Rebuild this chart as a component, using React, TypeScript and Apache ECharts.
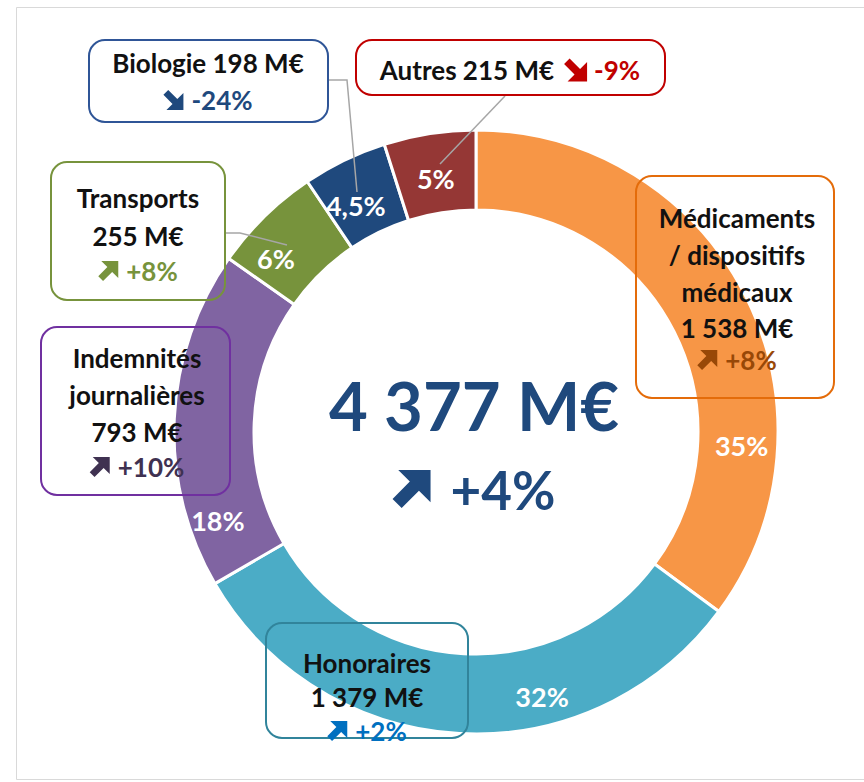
import React, { useEffect, useRef } from "react";
import * as echarts from "echarts";

// ---- Data ----
const categories = [
  "Médicaments / dispositifs médicaux",
  "Honoraires",
  "Indemnités journalières",
  "Transports",
  "Biologie",
  "Autres",
];
const amounts = [1538, 1379, 793, 255, 198, 215];
const shareLabels = ["35%", "32%", "18%", "6%", "4,5%", "5%"];
const changes = ["+8%", "+2%", "+10%", "+8%", "-24%", "-9%"];
const totalLabel = "4 377 M€";
const totalChange = "+4%";

// ---- Styles / layout ----
const FONT = "Lato, 'Open Sans', sans-serif";
const sliceColors = ["#F79646", "#4BACC6", "#8064A2", "#77933C", "#1F497D", "#953735"];
const boxColors = ["#E46C0A", "#31849B", "#7030A0", "#77933C", "#2F5597", "#C00000"];
const changeColors = ["#984807", "#0070C0", "#3F3151", "#77933C", "#1F497D", "#C00000"];
const nameLines = [
  ["Médicaments", "/ dispositifs", "médicaux"],
  ["Honoraires"],
  ["Indemnités", "journalières"],
  ["Transports"],
  ["Biologie"],
  ["Autres"],
];
const CX = 476;
const CY = 432;
// label polar positions [angle from 12 o'clock clockwise (deg), radius]
const labelPolar = [
  [93, 266],
  [166, 273],
  [251, 273],
  [311, 265],
  [332, 256],
  [351, 257],
];
const boxes = [
  { x: 636, y: 176, w: 198, h: 222, cx: 737, lines: [218, 255, 292, 328], chg: 360 },
  { x: 266, y: 623, w: 202, h: 115, cx: 367, lines: [663, 697], chg: 731 },
  { x: 41, y: 327, w: 189, h: 168, cx: 137, lines: [358, 395, 432], chg: 467 },
  { x: 51, y: 162, w: 174, h: 138, cx: 138, lines: [198, 236], chg: 271 },
  { x: 89, y: 40, w: 239, h: 82, cx: 208, lines: [63], chg: 100 },
  { x: 356, y: 40, w: 309, h: 55, cx: 510, lines: [70], chg: 70 },
];
const leaders = [
  null,
  null,
  null,
  [[225, 233], [240, 233], [287, 245]],
  [[328, 80], [347, 80], [357, 192]],
  [[505, 96], [440, 164]],
];

// ---- Arrow shapes ----
const UP_D = "M15 0 L100 0 L100 85 L69.5 54.5 L24 100 L0 76 L45.5 30.5 Z";
const DOWN_D = "M15 100 L100 100 L100 15 L69.5 45.5 L24 0 L0 24 L45.5 69.5 Z";
echarts.graphic.registerShape("arrowUp", echarts.graphic.extendPath(UP_D, {}));
echarts.graphic.registerShape("arrowDown", echarts.graphic.extendPath(DOWN_D, {}));

let measureCtx: CanvasRenderingContext2D | null = null;
function measure(text: string, font: string): number {
  if (!measureCtx) measureCtx = document.createElement("canvas").getContext("2d");
  measureCtx!.font = font;
  return measureCtx!.measureText(text).width;
}

function fmtAmount(v: number): string {
  return v.toString().replace(/\B(?=(\d{3})+(?!\d))/g, " ") + " M€";
}

function arrowWithText(
  chg: string,
  startX: number,
  cy: number,
  size: number,
  gap: number,
  fontSize: number,
  color: string
): any[] {
  const up = !chg.startsWith("-");
  return [
    {
      type: up ? "arrowUp" : "arrowDown",
      x: startX,
      y: cy - size / 2,
      scaleX: size / 100,
      scaleY: size / 100,
      style: { fill: color },
    },
    {
      type: "text",
      style: {
        text: chg,
        x: startX + size + gap,
        y: cy,
        align: "left",
        verticalAlign: "middle",
        font: `bold ${fontSize}px ${FONT}`,
        fill: color,
      },
    },
  ];
}

function buildGraphics(): any[] {
  const els: any[] = [];
  // frame
  els.push({
    type: "rect",
    shape: { x: 16.5, y: 7.5, width: 900, height: 772 },
    style: { fill: "none", stroke: "#D9D9D9", lineWidth: 1 },
    z: 0,
  });
  const fs = 26;
  const font = `bold ${fs}px ${FONT}`;
  categories.forEach((_, i) => {
    const b = boxes[i];
    els.push({
      type: "rect",
      shape: { x: b.x, y: b.y, width: b.w, height: b.h, r: 16 },
      style: { fill: "none", stroke: boxColors[i], lineWidth: 2 },
      z: 10,
    });
    const lines = nameLines[i].slice();
    const amt = fmtAmount(amounts[i]);
    if (i === 4 || i === 5) {
      lines[0] = lines[0] + " " + amt;
    } else {
      lines.push(amt);
    }
    if (i === 5) {
      const t1 = lines[0];
      const w1 = measure(t1, font);
      const w2 = measure(changes[i], font);
      const a = 23, g1 = 10, g2 = 7;
      const total = w1 + g1 + a + g2 + w2;
      const sx = b.cx - total / 2;
      els.push({
        type: "text",
        z: 11,
        style: { text: t1, x: sx, y: b.lines[0], align: "left", verticalAlign: "middle", font, fill: "#111" },
      });
      arrowWithText(changes[i], sx + w1 + g1, b.chg, a, g2, fs, changeColors[i]).forEach((e) =>
        els.push({ ...e, z: 11 })
      );
      return;
    }
    lines.forEach((t, k) => {
      els.push({
        type: "text",
        z: 11,
        style: { text: t, x: b.cx, y: b.lines[k], align: "center", verticalAlign: "middle", font, fill: "#111" },
      });
    });
    const a = 20, g = 8;
    const w = measure(changes[i], font);
    const sx = b.cx - (a + g + w) / 2;
    arrowWithText(changes[i], sx, b.chg, a, g, fs, changeColors[i]).forEach((e) => els.push({ ...e, z: 11 }));
  });
  // leader lines
  leaders.forEach((pts) => {
    if (!pts) return;
    els.push({
      type: "polyline",
      shape: { points: pts },
      style: { stroke: "#A6A6A6", lineWidth: 1.5, fill: "none" },
      z: 9,
    });
  });
  // center total
  els.push({
    type: "text",
    z: 11,
    style: {
      text: totalLabel,
      x: 474,
      y: 405,
      align: "center",
      verticalAlign: "middle",
      font: `bold 67px ${FONT}`,
      fill: "#1F497D",
    },
  });
  const cfont = `bold 53px ${FONT}`;
  const cw = measure(totalChange, cfont);
  const ca = 38, cg = 20;
  const csx = 474 - (ca + cg + cw) / 2;
  arrowWithText(totalChange, csx, 489, ca, cg, 53, "#1F497D").forEach((e) => els.push({ ...e, z: 11 }));
  return els;
}

export default function App() {
  const ref = useRef<HTMLDivElement>(null);
  useEffect(() => {
    if (!ref.current) return;
    const chart = echarts.init(ref.current, undefined, { renderer: "svg" });
    chart.setOption({
      animation: false,
      backgroundColor: "#fff",
      series: [
        {
          type: "pie",
          center: [CX, CY],
          radius: [222, 302],
          startAngle: 90,
          clockwise: true,
          silent: true,
          z: 2,
          itemStyle: { borderColor: "#fff", borderWidth: 3 },
          label: {
            show: true,
            position: "inside",
            formatter: (p: any) => shareLabels[p.dataIndex],
            color: "#fff",
            fontFamily: FONT,
            fontWeight: "bold",
            fontSize: 27,
          },
          labelLine: { show: false },
          labelLayout: (p: any) => {
            const [ang, r] = labelPolar[p.dataIndex];
            const rad = (ang * Math.PI) / 180;
            return { x: CX + r * Math.sin(rad), y: CY - r * Math.cos(rad) };
          },
          emphasis: { disabled: true },
          data: categories.map((c, i) => ({
            name: c,
            value: amounts[i],
            itemStyle: { color: sliceColors[i] },
          })),
        },
      ],
      graphic: { elements: buildGraphics() },
    });
    return () => chart.dispose();
  }, []);
  return (
    <div
      ref={ref}
      style={{ position: "fixed", left: 0, top: 0, width: 864, height: 782 }}
    />
  );
}
